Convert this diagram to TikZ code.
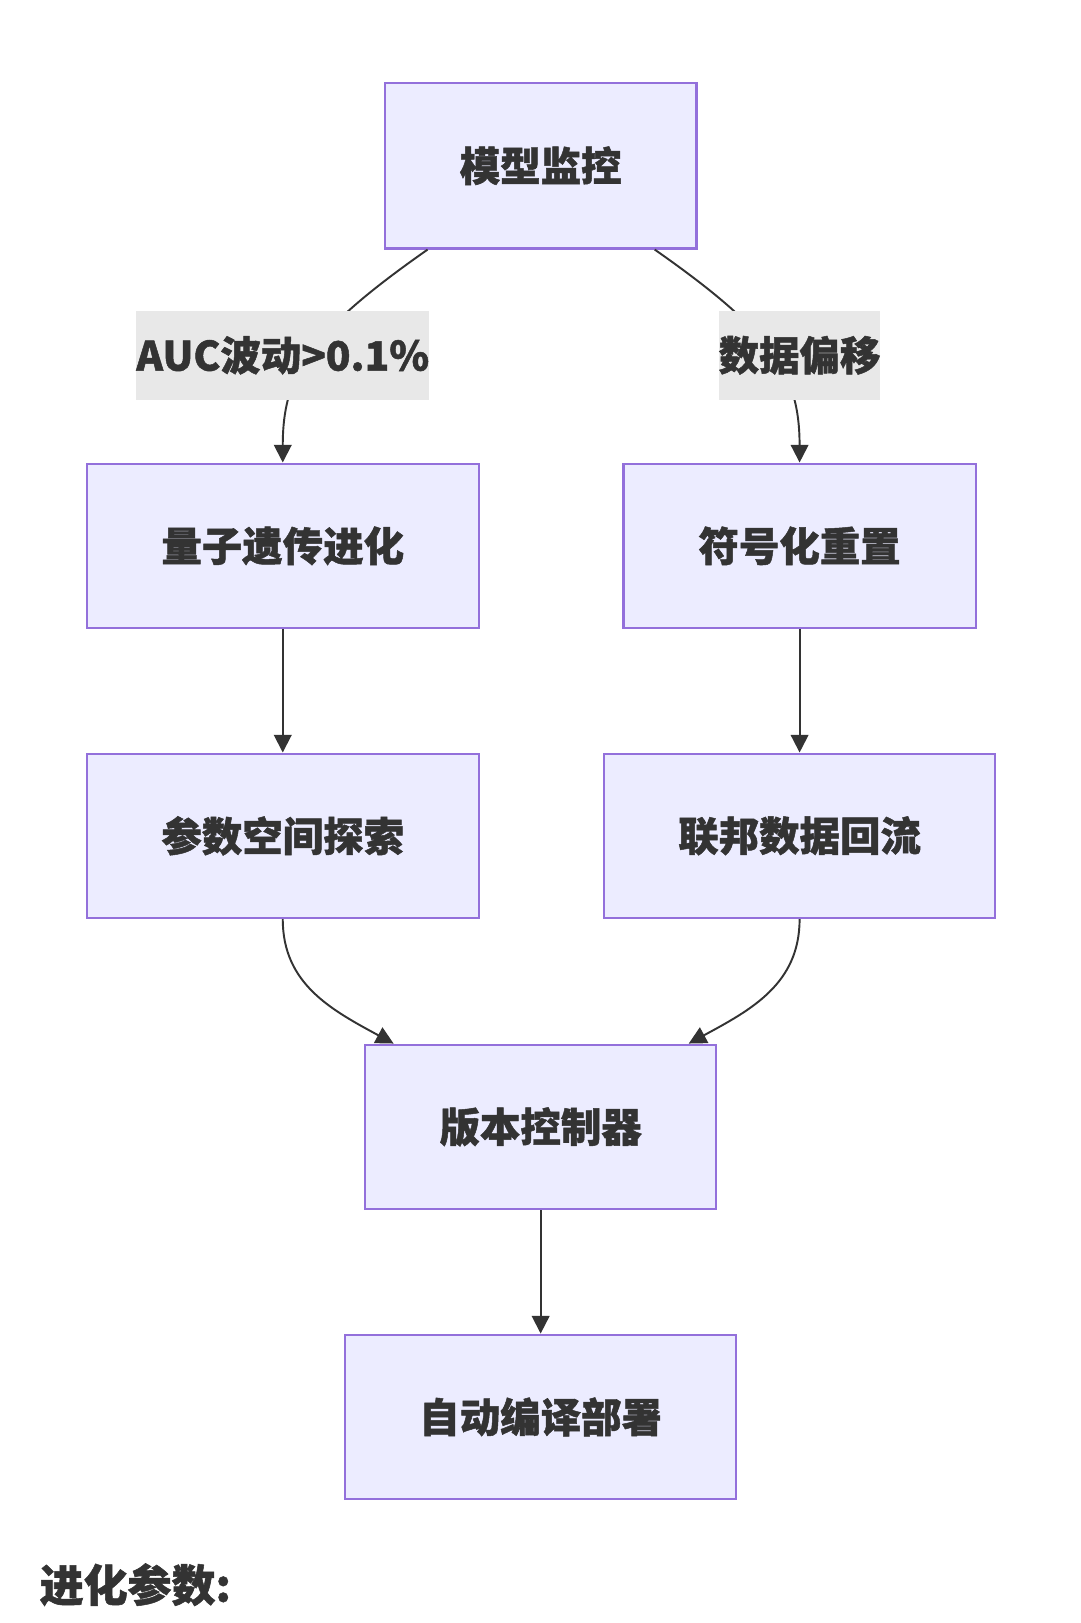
\documentclass[tikz,border=0pt]{standalone}
\usepackage{fontspec}
\setmainfont{Noto Sans CJK SC}[FakeBold=1.2]
\usetikzlibrary{arrows.meta}
\definecolor{boxfill}{HTML}{ECECFF}
\definecolor{boxline}{HTML}{9370DB}
\definecolor{edgecol}{HTML}{333333}
\definecolor{lblfill}{HTML}{E8E8E8}
\tikzset{
  font={\fontsize{23pt}{26pt}\selectfont\bfseries},
  box/.style={draw=boxline, fill=boxfill, line width=1.2pt, inner sep=0pt, text=edgecol},
  lbl/.style={fill=lblfill, inner sep=0pt, text=edgecol, minimum height=1.78cm},
  flow/.style={draw=edgecol, line width=1.1pt, -{Triangle[length=10pt,width=10pt]}}}

\begin{document}
\begin{tikzpicture}[x=0.0207cm,y=-0.0207cm]
\useasboundingbox (0,0) rectangle (1043,1567);
% boxes
\node [box, minimum width=6.23cm, minimum height=3.31cm] (mon) at (522,160) {模型监控};
\node [box, minimum width=7.83cm, minimum height=3.29cm] (qga) at (273,527) {量子遗传进化};
\node [box, minimum width=7.04cm, minimum height=3.29cm] (sym) at (772,527) {符号化重置};
\node [box, minimum width=7.83cm, minimum height=3.29cm] (psx) at (273,807) {参数空间探索};
\node [box, minimum width=7.83cm, minimum height=3.29cm] (fed) at (772,807) {联邦数据回流};
\node [box, minimum width=7.02cm, minimum height=3.29cm] (ver) at (522,1088) {版本控制器};
\node [box, minimum width=7.81cm, minimum height=3.29cm] (dep) at (522,1368) {自动编译部署};
% edges
\draw [flow] ([xshift=-2.26cm]mon.south) .. controls (300,320) and (273,360) .. (qga.north);
\draw [flow] ([xshift=2.28cm]mon.south) .. controls (745,320) and (772,360) .. (sym.north);
\draw [flow] (qga) -- (psx);
\draw [flow] (sym) -- (fed);
\draw [flow] (psx.south) .. controls (273,950) and (320,975) .. ([xshift=-2.94cm]ver.north);
\draw [flow] (fed.south) .. controls (772,950) and (725,975) .. ([xshift=2.96cm]ver.north);
\draw [flow] (ver) -- (dep);
% edge labels
\node [lbl, minimum width=5.51cm] (l1) at (273,343) {AUC波动>0.1\%};
\node [lbl, minimum width=3.21cm] (l2) at (772,343) {数据偏移};
\node [anchor=west, inner sep=0pt, text=edgecol] (par) at (38,1530) {\fontsize{25pt}{28pt}\selectfont 进化参数:};
\end{tikzpicture}
\end{document}
